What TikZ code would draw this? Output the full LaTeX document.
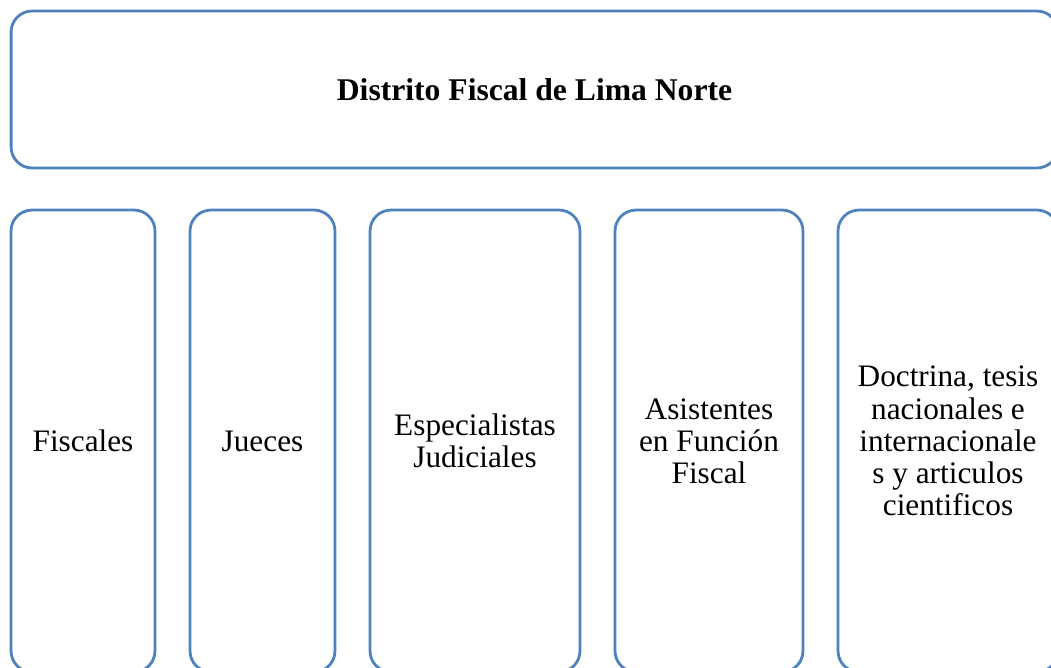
\documentclass[tikz,border=0pt]{standalone}
\usepackage{fontspec}
\setmainfont{Liberation Serif}
\usepackage{tikz}
\usetikzlibrary{positioning}
\usepackage{xcolor}
\definecolor{boxblue}{RGB}{79,129,189}

\begin{document}
\begin{tikzpicture}[
    x=0.02cm, y=-0.02cm,
    every node/.style={draw=boxblue, line width=1.6pt, rounded corners=0.42cm, align=center, font=\fontsize{17.8}{18.3}\selectfont},
    topbox/.style={minimum width=20.94cm, minimum height=3.14cm, font=\fontsize{18}{18}\selectfont\bfseries},
    colbox/.style={minimum height=9.24cm}
]

% Frame
\useasboundingbox (0,0) rectangle (1051,667);
\clip (0,0) rectangle (1051,667);

% Nodes
\node[topbox] (D) at (534.5,89.5) {Distrito Fiscal de Lima Norte};
\node[colbox, minimum width=2.88cm] (F) at (83,441) {Fiscales};
\node[colbox, minimum width=2.9cm] (J) at (262.5,441) {Jueces};
\node[colbox, minimum width=4.2cm] (E) at (475,441) {Especialistas\\ Judiciales};
\node[colbox, minimum width=3.76cm] (A) at (709,441) {Asistentes\\ en Función\\ Fiscal};
\node[colbox, minimum width=4.4cm] (T) at (948,441) {Doctrina, tesis\\ nacionales e\\ internacionale\\ s y articulos\\ cientificos};

\end{tikzpicture}
\end{document}
